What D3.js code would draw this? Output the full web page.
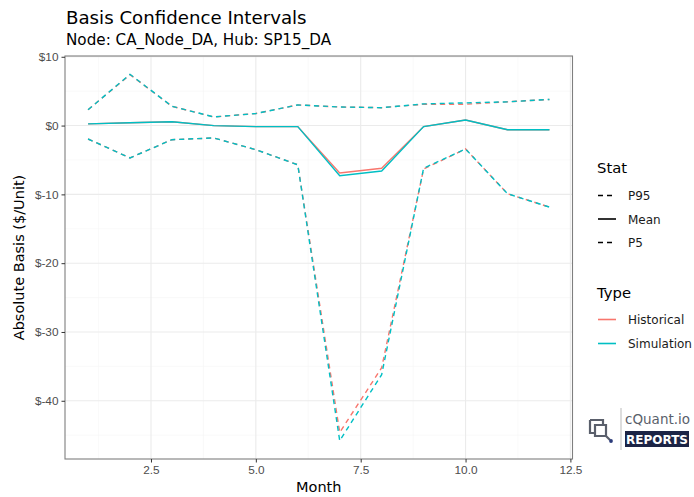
<!DOCTYPE html>
<html>
<head>
<meta charset="UTF-8">
<script src="https://d3js.org/d3.v7.min.js"></script>
<style>
  body { margin: 0; background: #fff; }
  svg { font-family: "DejaVu Sans", sans-serif; }
  .grid-major line { stroke: #EBEBEB; stroke-width: 1.1; }
  .grid-minor line { stroke: #F5F5F5; stroke-width: 0.6; }
  .axis text { fill: #4D4D4D; font-size: 11.8px; }
  .axis line { stroke: #333; }
  .axis path { display: none; }
</style>
</head>
<body>
<svg id="chart" width="694" height="497"></svg>
<script>
// data
var months = [1, 2, 3, 4, 5, 6, 7, 8, 9, 10, 11, 12];
var histP95  = [2.3, 7.4, 2.8, 1.25, 1.75, 3.0, 2.7, 2.6, 3.1, 3.1, 3.45, 3.8];
var simP95   = [2.3, 7.45, 2.8, 1.25, 1.75, 3.0, 2.7, 2.6, 3.15, 3.3, 3.45, 3.8];
var histMean = [0.25, 0.4, 0.55, 0.0, -0.15, -0.15, -6.9, -6.2, -0.15, 0.8, -0.6, -0.6];
var simMean  = [0.25, 0.4, 0.55, 0.0, -0.15, -0.15, -7.3, -6.6, -0.15, 0.8, -0.6, -0.6];
var histP5   = [-1.95, -4.7, -2.05, -1.8, -3.5, -5.7, -44.6, -35.2, -6.3, -3.4, -9.9, -11.85];
var simP5    = [-1.95, -4.7, -2.05, -1.8, -3.5, -5.7, -45.8, -36.2, -6.2, -3.4, -9.9, -11.85];
var xTicks = [2.5, 5.0, 7.5, 10.0, 12.5];
var xMinor = [1.25, 3.75, 6.25, 8.75, 11.25];
var yTicks = [10, 0, -10, -20, -30, -40];
var yMinor = [5, -5, -15, -25, -35, -45];
var statNames = ["P95", "Mean", "P5"];
var typeNames = ["Historical", "Simulation"];
var typeColors = ["#F8766D", "#00BFC4"];

var svg = d3.select("#chart");
var L = 65, R = 572.5, T = 56, B = 459;

var series = [
  {type: 0, stat: "P95", v: histP95}, {type: 0, stat: "Mean", v: histMean}, {type: 0, stat: "P5", v: histP5},
  {type: 1, stat: "P95", v: simP95}, {type: 1, stat: "Mean", v: simMean}, {type: 1, stat: "P5", v: simP5}
];

var allV = [].concat(histP95, simP95, histMean, simMean, histP5, simP5);
var yMin = d3.min(allV), yMax = d3.max(allV), yPad = (yMax - yMin) * 0.05;
var xPad = (d3.max(months) - d3.min(months)) * 0.05;

var x = d3.scaleLinear().domain([d3.min(months) - xPad, d3.max(months) + xPad]).range([L, R]);
var y = d3.scaleLinear().domain([yMin - yPad, yMax + yPad]).range([B, T]);

// grid
svg.append("g").attr("class", "grid-minor").selectAll("line.v").data(xMinor).enter().append("line")
  .attr("x1", d => x(d)).attr("x2", d => x(d)).attr("y1", T).attr("y2", B);
svg.select(".grid-minor").selectAll("line.h").data(yMinor).enter().append("line")
  .attr("x1", L).attr("x2", R).attr("y1", d => y(d)).attr("y2", d => y(d));
var gMaj = svg.append("g").attr("class", "grid-major");
gMaj.selectAll("line.v").data(xTicks.filter(d => x(d) < R - 1)).enter().append("line")
  .attr("x1", d => x(d)).attr("x2", d => x(d)).attr("y1", T).attr("y2", B);
gMaj.selectAll("line.h").data(yTicks).enter().append("line").attr("class", "h")
  .attr("x1", L).attr("x2", R).attr("y1", d => y(d)).attr("y2", d => y(d));

// lines
var line = d3.line().x((d, i) => x(months[i])).y(d => y(d));
svg.append("g").selectAll("path").data(series).enter().append("path")
  .attr("d", d => line(d.v))
  .attr("fill", "none")
  .attr("stroke", d => typeColors[d.type])
  .attr("stroke-width", 1.4)
  .attr("stroke-dasharray", d => d.stat === "Mean" ? null : "5,4");

// panel border
svg.append("rect").attr("x", L).attr("y", T).attr("width", R - L).attr("height", B - T)
  .attr("fill", "none").attr("stroke", "#7F7F7F").attr("stroke-width", 1.1);

// axes
svg.append("g").attr("class", "axis").attr("transform", "translate(0," + B + ")")
  .call(d3.axisBottom(x).tickValues(xTicks).tickSize(3.5).tickPadding(3).tickFormat(d3.format(".1f")));
svg.append("g").attr("class", "axis").attr("transform", "translate(" + L + ",0)")
  .call(d3.axisLeft(y).tickValues(yTicks).tickSize(3.5).tickPadding(3).tickFormat(d => "$" + d));

// titles
svg.append("text").attr("x", 66).attr("y", 24).attr("font-size", 18.2).attr("fill", "#000").text("Basis Confidence Intervals");
svg.append("text").attr("x", 66).attr("y", 45).attr("font-size", 15.2).attr("fill", "#000").text("Node: CA_Node_DA, Hub: SP15_DA");
svg.append("text").attr("x", (L + R) / 2).attr("y", 492).attr("text-anchor", "middle").attr("font-size", 14.5).text("Month");
svg.append("text").attr("transform", "translate(24," + ((T + B) / 2) + ") rotate(-90)")
  .attr("text-anchor", "middle").attr("font-size", 14.5).text("Absolute Basis ($/Unit)");

// legends
var lg = svg.append("g");
lg.append("text").attr("x", 597).attr("y", 173.3).attr("font-size", 14.8).text("Stat");
statNames.forEach(function (s, i) {
  var yy = 195.5 + i * 23.5;
  lg.append("line").attr("x1", 598).attr("x2", 616).attr("y1", yy).attr("y2", yy)
    .attr("stroke", "#000").attr("stroke-width", 1.6).attr("stroke-dasharray", s === "Mean" ? null : "5,4");
  lg.append("text").attr("x", 628).attr("y", yy + 4.5).attr("font-size", 12).attr("fill", "#1A1A1A").text(s);
});
lg.append("text").attr("x", 597).attr("y", 298.3).attr("font-size", 14.8).text("Type");
typeNames.forEach(function (s, i) {
  var yy = 319.5 + i * 24;
  lg.append("line").attr("x1", 598).attr("x2", 616).attr("y1", yy).attr("y2", yy)
    .attr("stroke", typeColors[i]).attr("stroke-width", 1.6);
  lg.append("text").attr("x", 628).attr("y", yy + 4.5).attr("font-size", 12).attr("fill", "#1A1A1A").text(s);
});

// logo
var logo = svg.append("g");
logo.append("path").attr("d", "M590,420 h13 v4 M590,420 v13 h6 M595,425 h11 v11 h-11 z M606,436 l4,4")
  .attr("fill", "none").attr("stroke", "#5A5F6B").attr("stroke-width", 2.2);
logo.append("circle").attr("cx", 611).attr("cy", 441).attr("r", 1.9).attr("fill", "#2B3B7A");
logo.append("line").attr("x1", 621).attr("x2", 621).attr("y1", 408).attr("y2", 450).attr("stroke", "#BBB").attr("stroke-width", 1);
logo.append("text").attr("x", 625).attr("y", 424).attr("font-size", 13.5).attr("fill", "#5A5F6B").text("cQuant.io");
logo.append("rect").attr("x", 625).attr("y", 431).attr("width", 64).attr("height", 16).attr("fill", "#1C2445");
logo.append("text").attr("x", 657).attr("y", 444).attr("text-anchor", "middle").attr("font-size", 12)
  .attr("font-weight", "bold").attr("fill", "#fff").text("REPORTS");
</script>
</body>
</html>
